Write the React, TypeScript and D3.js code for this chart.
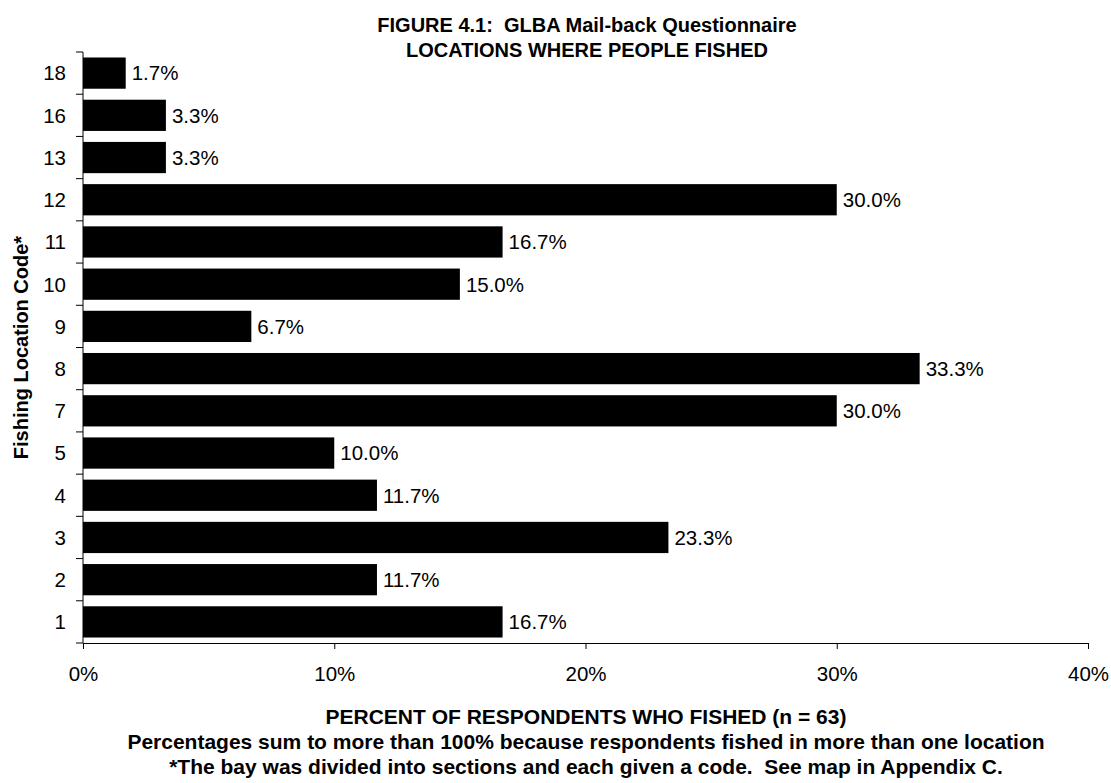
import React, { useEffect, useRef } from 'react';
import * as d3 from 'd3';

// location codes, top to bottom as drawn
const codes = ['18', '16', '13', '12', '11', '10', '9', '8', '7', '5', '4', '3', '2', '1'];
// percent of respondents who fished at each code
const percents = [1.7, 3.3, 3.3, 30.0, 16.7, 15.0, 6.7, 33.3, 30.0, 10.0, 11.7, 23.3, 11.7, 16.7];
const xTicks = [0, 10, 20, 30, 40];

const titleLines = ['FIGURE 4.1:  GLBA Mail-back Questionnaire', 'LOCATIONS WHERE PEOPLE FISHED'];
const footLines = [
    'PERCENT OF RESPONDENTS WHO FISHED (n = 63)',
    'Percentages sum to more than 100% because respondents fished in more than one location',
    '*The bay was divided into sections and each given a code.  See map in Appendix C.',
];
const yTitle = 'Fishing Location Code*';

const W = 1111;
const H = 783;
const FONT = '"Liberation Sans", Arial, sans-serif';

const App = () => {
    const ref = useRef<SVGSVGElement>(null);

    useEffect(() => {
        const svg = d3.select(ref.current);
        svg.selectAll('*').remove();

        const left = 83, right = 1088, top = 52, bottom = 643;

        const x = d3.scaleLinear().domain([0, 40]).range([left, right]);
        const y = d3.scaleBand<string>()
            .domain(codes)
            .range([top, bottom])
            .paddingInner(0.26)
            .paddingOuter(0.13);

        const rows = codes.map((c, i) => ({ code: c, value: percents[i] }));

        // bars
        svg.append('g')
            .selectAll('rect')
            .data(rows)
            .join('rect')
            .attr('x', x(0))
            .attr('y', d => y(d.code)!)
            .attr('width', d => x(d.value) - x(0))
            .attr('height', y.bandwidth())
            .attr('fill', '#000');

        // value labels
        svg.append('g')
            .selectAll('text')
            .data(rows)
            .join('text')
            .attr('x', d => x(d.value) + 6)
            .attr('y', d => y(d.code)! + y.bandwidth() / 2)
            .attr('dy', '0.36em')
            .style('font-family', FONT)
            .style('font-size', '20.5px')
            .attr('fill', '#000')
            .text(d => d.value.toFixed(1) + '%');

        // x axis
        const xAxis = svg.append('g')
            .attr('transform', `translate(0,${bottom})`)
            .call(d3.axisBottom(x)
                .tickValues(xTicks)
                .tickSize(6)
                .tickSizeOuter(0)
                .tickPadding(17)
                .tickFormat(d => `${d}%`));
        xAxis.select('.domain').attr('stroke', '#000');
        xAxis.selectAll('text')
            .style('font-family', FONT)
            .style('font-size', '20.5px')
            .attr('fill', '#000');

        // y axis: line plus ticks at band edges
        const step = y.step();
        const edges = codes.map(c => y(c)! - (step * y.paddingInner()) / 2).concat([bottom]);
        const yAxis = svg.append('g');
        yAxis.append('line')
            .attr('x1', left).attr('x2', left)
            .attr('y1', top).attr('y2', bottom)
            .attr('stroke', '#000');
        yAxis.selectAll('line.tick')
            .data(edges)
            .join('line')
            .attr('class', 'tick')
            .attr('x1', left - 7).attr('x2', left)
            .attr('y1', d => d).attr('y2', d => d)
            .attr('stroke', '#000');
        yAxis.selectAll('text')
            .data(codes)
            .join('text')
            .attr('x', left - 17)
            .attr('y', d => y(d)! + y.bandwidth() / 2)
            .attr('dy', '0.36em')
            .attr('text-anchor', 'end')
            .style('font-family', FONT)
            .style('font-size', '20.5px')
            .attr('fill', '#000')
            .text(d => d);

        // y axis title
        svg.append('text')
            .attr('transform', `translate(28,${(top + bottom) / 2}) rotate(-90)`)
            .attr('text-anchor', 'middle')
            .style('font-family', FONT)
            .style('font-size', '20px')
            .style('font-weight', 'bold')
            .text(yTitle);

        // title (double spaces kept)
        svg.append('g')
            .selectAll('text')
            .data(titleLines)
            .join('text')
            .attr('x', 587)
            .attr('y', (d, i) => 32 + i * 25)
            .attr('text-anchor', 'middle')
            .style('font-family', FONT)
            .style('font-size', '20px')
            .style('font-weight', 'bold')
            .style('white-space', 'pre')
            .text(d => d);

        // footer lines under the axis
        svg.append('g')
            .selectAll('text')
            .data(footLines)
            .join('text')
            .attr('x', 586)
            .attr('y', (d, i) => 724 + i * 25)
            .attr('text-anchor', 'middle')
            .style('font-family', FONT)
            .style('font-size', '21px')
            .style('font-weight', 'bold')
            .style('white-space', 'pre')
            .text(d => d);
    }, []);

    return (
        <div style={{ position: 'absolute', left: 0, top: 0 }}>
            <svg ref={ref} width={W} height={H} style={{ display: 'block', background: '#fff' }}></svg>
        </div>
    );
};

export default App;
